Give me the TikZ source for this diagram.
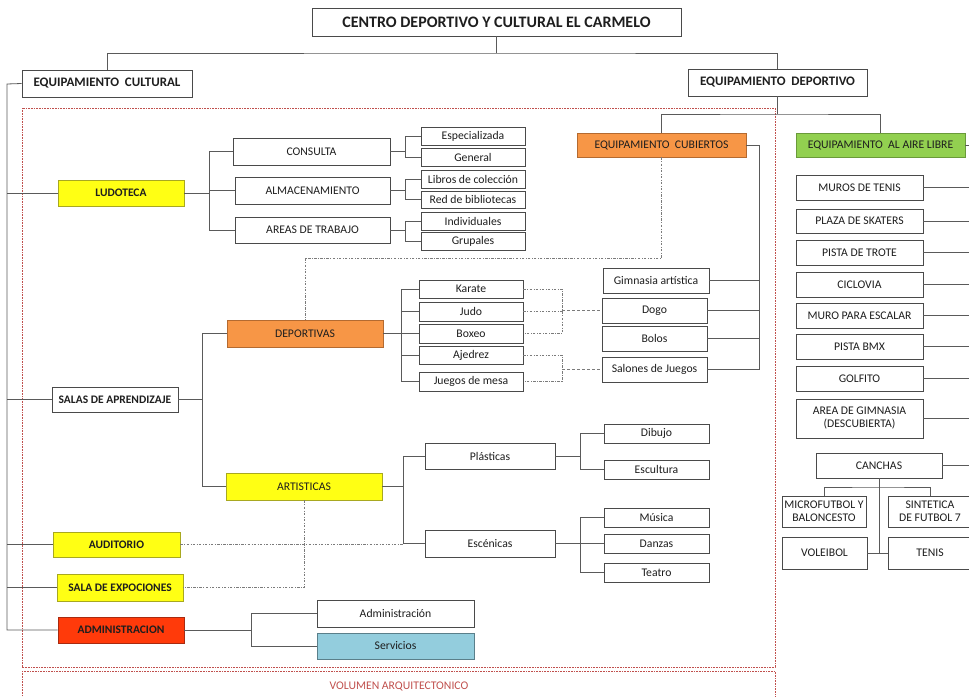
\documentclass[tikz,border=0pt]{standalone}
\usepackage{fontspec}
\setmainfont{Carlito}
\definecolor{linec}{HTML}{5A5A5A}
\definecolor{boxc}{HTML}{4A4A4A}
\definecolor{txtc}{HTML}{1E1E1E}
\definecolor{yel}{HTML}{FFFF14}
\definecolor{yelb}{HTML}{A8A820}
\definecolor{ora}{HTML}{F79646}
\definecolor{orab}{HTML}{B46A30}
\definecolor{gre}{HTML}{92D050}
\definecolor{greb}{HTML}{6A9A3A}
\definecolor{redf}{HTML}{FF3A0A}
\definecolor{redb}{HTML}{A82A10}
\definecolor{blu}{HTML}{93CDDD}
\definecolor{blub}{HTML}{5A7F8A}
\definecolor{dred}{HTML}{C0504D}
\tikzset{
  bbox/.style={draw=boxc,line width=0.9pt,fill=white,inner sep=0pt,text=txtc,font=\fontsize{11.7}{13}\selectfont,align=center},
  bold/.style={font=\fontsize{11.5}{13}\selectfont\bfseries},
  bigbold/.style={font=\fontsize{13}{15}\selectfont\bfseries},
  yb/.style={fill=yel,draw=yelb},
  ob/.style={fill=ora,draw=orab},
  gb/.style={fill=gre,draw=greb},
  rb/.style={fill=redf,draw=redb},
  lb/.style={fill=blu,draw=blub},
  conn/.style={draw=linec,line width=0.8pt},
  dd/.style={draw=linec!80,line width=0.7pt,dash pattern=on 2.5pt off 1.5pt on 0.6pt off 1.5pt},
  dsh/.style={draw=linec!80,line width=0.7pt,dash pattern=on 3pt off 2pt},
  redbox/.style={draw=dred,line width=0.6pt,dash pattern=on 0.8pt off 0.8pt}
}
\newcommand\bx[7][]{\node[bbox,#1,minimum width={(#5-#3)*1pt},minimum height={(#6-#4)*1pt}] (#2) at ({(#3+#5)/2},{(#4+#6)/2}) {#7};}
\begin{document}
\begin{tikzpicture}[x=1pt,y=-1pt]
\useasboundingbox (0,0) rectangle (969,696);
% red dotted areas
\draw[redbox] (22,108) rectangle (775,667);
\draw[redbox] (22,671) rectangle (775,700);
\node[text=dred,font=\fontsize{11.7}{13}\selectfont] (vol) at (399,686) {VOLUMEN ARQUITECTONICO};
% top level
\bx[font=\fontsize{16}{18}\selectfont\bfseries]{title}{312}{8}{681}{36}{CENTRO DEPORTIVO Y CULTURAL EL CARMELO}
\bx[bigbold]{ecul}{22}{70}{192}{97}{EQUIPAMIENTO\hspace{0.45em}CULTURAL}
\bx[bigbold]{edep}{688}{69}{867}{96}{EQUIPAMIENTO\hspace{0.45em}DEPORTIVO}
% ludoteca
\bx[bold,yb]{lud}{58}{180}{184}{206}{LUDOTECA}
\bx{cons}{233}{138}{390}{165}{CONSULTA}
\bx{alm}{235}{177}{390}{204}{ALMACENAMIENTO}
\bx{areas}{235}{217}{390}{243}{AREAS DE TRABAJO}
\bx{esp}{421}{127}{525}{145}{Especializada}
\bx{gen}{421}{148}{525}{166}{General}
\bx{lib}{421}{170}{525}{188}{Libros de colección}
\bx{redb}{421}{191}{525}{208}{Red de bibliotecas}
\bx{ind}{421}{212}{525}{230}{Individuales}
\bx{gru}{421}{232}{525}{250}{Grupales}
% deportivo
\bx[ob]{ecub}{577}{133}{746}{157}{EQUIPAMIENTO\hspace{0.45em}CUBIERTOS}
\bx[gb]{eair}{796}{133}{965}{157}{EQUIPAMIENTO\hspace{0.45em}AL AIRE LIBRE}
\bx{mur}{796}{175}{923}{200}{MUROS DE TENIS}
\bx{plz}{796}{209}{923}{233}{PLAZA DE SKATERS}
\bx{pis}{796}{240}{923}{265}{PISTA DE TROTE}
\bx{cic}{796}{272}{923}{297}{CICLOVIA}
\bx{mpe}{796}{303}{923}{328}{MURO PARA ESCALAR}
\bx{bmx}{796}{334}{923}{359}{PISTA BMX}
\bx{gol}{796}{366}{923}{391}{GOLFITO}
\bx{agi}{796}{399}{923}{438}{AREA DE GIMNASIA\\(DESCUBIERTA)}
\bx{can}{816}{453}{942}{478}{CANCHAS}
\bx{mic}{782}{496}{866}{527}{MICROFUTBOL Y\\BALONCESTO}
\bx{sin}{888}{496}{972}{527}{SINTETICA\\DE FUTBOL 7}
\bx{vol}{782}{537}{867}{569}{VOLEIBOL}
\bx{ten}{888}{537}{972}{569}{TENIS}
% salas
\bx[bold]{sal}{52}{387}{178}{412}{SALAS DE APRENDIZAJE}
\bx[ob]{dep}{227}{320}{383}{347}{DEPORTIVAS}
\bx{kar}{419}{280}{523}{298}{Karate}
\bx{jud}{419}{302}{523}{321}{Judo}
\bx{boxe}{419}{324}{523}{343}{Boxeo}
\bx{aje}{419}{346}{523}{364}{Ajedrez}
\bx{jue}{419}{372}{523}{391}{Juegos de mesa}
\bx{gim}{603}{268}{709}{293}{Gimnasia artística}
\bx{dog}{602}{298}{707}{323}{Dogo}
\bx{bol}{602}{326}{707}{351}{Bolos}
\bx{slj}{602}{357}{707}{382}{Salones de Juegos}
\bx[yb]{art}{226}{473}{382}{500}{ARTISTICAS}
\bx{pla}{425}{443}{555}{469}{Plásticas}
\bx{esc}{425}{530}{555}{557}{Escénicas}
\bx{dib}{604}{424}{709}{443}{Dibujo}
\bx{escu}{604}{460}{709}{479}{Escultura}
\bx{mus}{604}{508}{709}{527}{Música}
\bx{dan}{604}{534}{709}{553}{Danzas}
\bx{tea}{604}{563}{709}{582}{Teatro}
\bx[bold,yb]{aud}{53}{532}{180}{557}{AUDITORIO}
\bx[bold,yb]{sexp}{57}{574}{183}{601}{SALA DE EXPOCIONES}
\bx[bold,rb]{adm}{58}{617}{184}{643}{ADMINISTRACION}
\bx{admi}{317}{600}{474}{627}{Administración}
\bx[lb]{serv}{317}{633}{474}{659}{Servicios}
% bus coordinates
\coordinate (tj) at (496.5,53);
\coordinate (lbus) at (7,84);
\coordinate (ludb) at (209,0);
\coordinate (sb1) at (405,0);
\coordinate (dj) at (777.5,114);
\coordinate (rbus) at (969,0);
\coordinate (cj) at (879,487);
\coordinate (cb) at (759,0);
\coordinate (ddj) at (661,258);
\coordinate (db) at (401,0);
\coordinate (mb) at (562,0);
\coordinate (sb) at (202,0);
\coordinate (ab) at (403,0);
\coordinate (pb) at (580,0);
\coordinate (adb) at (251,0);
% connectors top
\draw[conn] (title.south) -- (tj);
\draw[conn] (ecul.north) |- (tj) -| (edep.north);
% left bus
\draw[conn] (ecul.west) -- (lbus) -- (lbus |- adm.west) -- (adm.west);
\foreach \n in {lud,sal,aud,sexp}{\draw[conn] (lbus |- \n.west) -- (\n.west);}
% ludoteca tree
\draw[conn] (lud.east) -- (lud.east -| ludb);
\draw[conn] (cons.west) -- (cons.west -| ludb) -- (areas.west -| ludb) -- (areas.west);
\draw[conn] (alm.west) -- (alm.west -| ludb);
\foreach \p/\a/\b in {cons/esp/gen,alm/lib/redb,areas/ind/gru}{
  \draw[conn] (\p.east) -- (\p.east -| sb1);
  \draw[conn] (\a.west) -- (\a.west -| sb1) -- (\b.west -| sb1) -- (\b.west);
}
% deportivo
\draw[conn] (edep.south) -- (dj);
\draw[conn] (ecub.north) |- (dj) -| (eair.north);
\foreach \n in {eair,mur,plz,pis,cic,mpe,bmx,gol,agi,can}{\draw[conn] (\n.east) -- (\n.east -| rbus);}
\draw[conn] (can.south) -- (can.south |- vol.east);
\draw[conn] (mic.north) |- (cj) -| (sin.north);
\draw[conn] (vol.east) -- (ten.west);
% cubiertos
\draw[conn] (ecub.east) -| (cb |- slj.east) -- (slj.east);
\foreach \n in {gim,dog,bol}{\draw[conn] (\n.east) -- (\n.east -| cb);}
\draw[dd] (ecub.south) -- (ecub.south |- ddj) -| (dep.north);
% salas tree
\draw[conn] (sal.east) -- (sal.east -| sb);
\draw[conn] (dep.west) -- (dep.west -| sb) -- (art.west -| sb) -- (art.west);
% deportivas
\draw[conn] (dep.east) -- (dep.east -| db);
\draw[conn] (kar.west) -- (kar.west -| db) -- (jue.west -| db) -- (jue.west);
\foreach \n in {jud,boxe,aje}{\draw[conn] (\n.west) -- (\n.west -| db);}
\draw[dd] (kar.east) -- (kar.east -| mb) -- (boxe.east -| mb) -- (boxe.east);
\draw[dd] (jud.east) -- (jud.east -| mb);
\draw[dsh] (dog.west -| mb) -- (dog.west);
\draw[dd] (aje.east) -- (aje.east -| mb) -- (jue.east -| mb) -- (jue.east);
\draw[dsh] (slj.west -| mb) -- (slj.west);
% artisticas
\draw[conn] (art.east) -- (art.east -| ab);
\draw[conn] (pla.west) -- (pla.west -| ab) -- (esc.west -| ab) -- (esc.west);
\draw[conn] (pla.east) -- (pla.east -| pb);
\draw[conn] (dib.west) -- (dib.west -| pb) -- (escu.west -| pb) -- (escu.west);
\draw[conn] (esc.east) -- (esc.east -| pb);
\draw[conn] (mus.west) -- (mus.west -| pb) -- (tea.west -| pb) -- (tea.west);
\draw[conn] (dan.west) -- (dan.west -| pb);
\draw[dd] (aud.east) -- (aud.east -| ab);
\draw[dd] (art.south) |- (sexp.east);
% administracion
\draw[conn] (adm.east) -- (adm.east -| adb);
\draw[conn] (admi.west) -- (admi.west -| adb) -- (serv.west -| adb) -- (serv.west);
\end{tikzpicture}
\end{document}
